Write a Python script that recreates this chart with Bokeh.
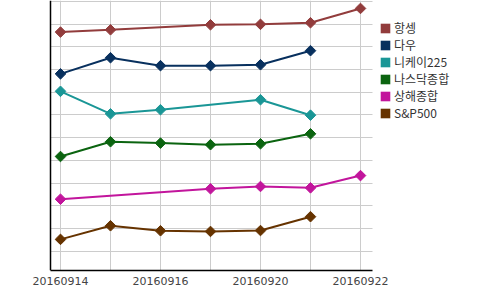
import numpy as np
from bokeh.plotting import figure
from bokeh.models import (Range1d, FixedTicker, Legend, LegendItem, ColumnDataSource, Span,
                          LinearAxis)
from bokeh.embed import file_html
from bokeh.resources import INLINE

dates = ["20160914", "20160915", "20160916", "20160919", "20160920", "20160921", "20160922"]
series_names = ["항셍", "다우", "니케이225", "나스닥종합", "상해종합", "S&P500"]
hangseng = [10.65, 10.75, None, 10.97, 10.99, 11.06, 11.69]
dow = [8.81, 9.52, 9.17, 9.17, 9.21, 9.83, None]
nikkei = [8.04, 7.05, 7.23, None, 7.67, 6.99, None]
nasdaq = [5.17, 5.82, 5.76, 5.69, 5.73, 6.17, None]
shanghai = [3.29, None, None, 3.75, 3.85, 3.79, 4.33]
sp500 = [1.52, 2.12, 1.90, 1.87, 1.91, 2.52, None]
series_values = [hangseng, dow, nikkei, nasdaq, shanghai, sp500]
colors = ["#923c3c", "#08305e", "#1a9696", "#0b6410", "#c2159c", "#663300"]

XB = (-0.2, 6.24)
p = figure(width=500, height=290, output_backend="svg", toolbar_location=None,
           x_range=Range1d(-0.6, 8.6), y_range=Range1d(0.15, 12.04),
           y_axis_location=None,
           min_border_left=30, min_border_right=10, min_border_top=0, min_border_bottom=20)
p.outline_line_color = None
p.background_fill_color = "white"

xi = list(range(len(dates)))
items = []
for name, vals, col in zip(series_names, series_values, colors):
    xs = [x for x, v in zip(xi, vals) if v is not None]
    ys = [v for v in vals if v is not None]
    src = ColumnDataSource(dict(x=xs, y=ys))
    p.line("x", "y", source=src, line_color=col, line_width=2)
    p.scatter("x", "y", source=src, marker="square", angle=np.pi / 4, size=7.5,
              fill_color=col, line_color=col)
    nan = float("nan")
    r = p.quad(left=[nan], right=[nan], top=[nan], bottom=[nan], fill_color=col, line_color=None)
    items.append(LegendItem(label=name, renderers=[r]))

legend = Legend(items=items, location=(349, 149), margin=0, padding=0, spacing=-2,
                glyph_width=12, glyph_height=12, label_height=12, label_standoff=3,
                label_text_font="Noto Sans CJK KR", label_text_font_size="12px",
                label_text_color="#333333", border_line_color=None,
                background_fill_alpha=0)
p.add_layout(legend, "center")

# left axis line
p.add_layout(Span(location=XB[0], dimension="height", line_color="black", line_width=1.5))

# bottom axis: line only, bounded
xa = p.xaxis[0]
xa.ticker = FixedTicker(ticks=[])
xa.bounds = XB
xa.major_tick_line_color = None
xa.minor_tick_line_color = None
xa.axis_line_color = "black"
xa.axis_line_width = 1.5
xa.major_label_standoff = 0

# labels axis (no bounds so edge labels are not shifted)
lab = LinearAxis(ticker=FixedTicker(ticks=xi),
                 major_label_overrides={i: (d if i % 2 == 0 else "") for i, d in enumerate(dates)},
                 axis_line_color=None, major_tick_line_color=None, minor_tick_line_color=None,
                 major_label_standoff=0, major_label_text_font="DejaVu Sans",
                 major_label_text_font_size="11px", major_label_text_color="#444444")
p.add_layout(lab, "below")

p.xgrid.ticker = FixedTicker(ticks=xi)
p.xgrid.grid_line_color = "#cccccc"
p.ygrid.ticker = FixedTicker(ticks=list(range(1, 13)))
p.ygrid.grid_line_color = "#cccccc"
p.ygrid.cross_bounds = XB

open("out.html", "w").write(file_html(p, INLINE))
